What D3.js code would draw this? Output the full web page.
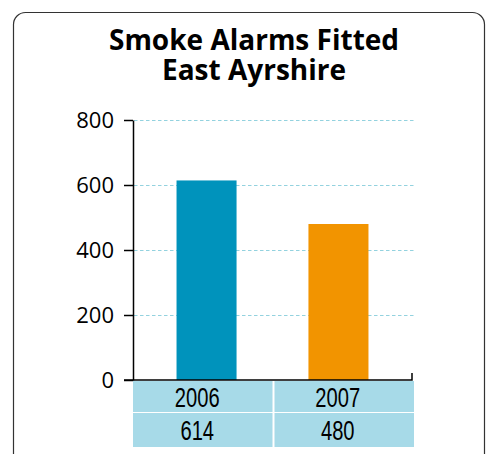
<!DOCTYPE html>
<meta charset="utf-8">
<head>
<style>
body { margin: 0; background: #fff; }
.title { font: bold 28px "Open Sans", sans-serif; fill: #000; }
.axis text { font: 22px "Open Sans", sans-serif; fill: #000; }
.axis path, .axis line { stroke: #000; stroke-width: 1.5; }
.grid line { stroke: #93d2df; stroke-dasharray: 3.5,2.5; }
.cell { fill: #a7dae8; }
.celltext { font: 27px "Liberation Sans", sans-serif; fill: #000; }
</style>
</head>
<body>
<svg width="491" height="454"></svg>
<script src="https://d3js.org/d3.v7.min.js"></script>
<script>

var years = ["2006", "2007"];
var alarms = [614, 480];
var colors = ["#0093bc", "#f29400"];
var yTicks = [0, 200, 400, 600, 800];
var titleLines = ["Smoke Alarms Fitted", "East Ayrshire"];

var svg = d3.select("svg");

svg.append("rect")
    .attr("x", 13.5).attr("y", 12.5)
    .attr("width", 471).attr("height", 470)
    .attr("rx", 12)
    .attr("fill", "#fff")
    .attr("stroke", "#333")
    .attr("stroke-width", 1.2);

// two-line title in one text element
svg.append("text").attr("class", "title")
    .attr("text-anchor", "middle")
  .selectAll("tspan")
  .data(titleLines)
  .enter().append("tspan")
    .attr("x", 254)
    .attr("y", function(d, i) { return 50 + i * 30; })
    .text(function(d) { return d; });

var y = d3.scaleLinear().domain([0, 800]).range([380, 120]);
var x = d3.scaleBand().domain(years).range([133, 412])
    .paddingInner(0.545).paddingOuter(0.33);

// gridlines
svg.append("g").attr("class", "grid")
  .selectAll("line")
  .data(yTicks.filter(function(d) { return d > 0; }))
  .enter().append("line")
    .attr("x1", 134).attr("x2", 414)
    .attr("y1", function(d) { return y(d) + 0.5; })
    .attr("y2", function(d) { return y(d) + 0.5; });

// bars
svg.selectAll(".bar")
  .data(alarms)
  .enter().append("rect")
    .attr("class", "bar")
    .attr("x", function(d, i) { return x(years[i]); })
    .attr("width", x.bandwidth())
    .attr("y", function(d) { return y(d); })
    .attr("height", function(d) { return y(0) - y(d); })
    .attr("fill", function(d, i) { return colors[i]; });

// y axis
svg.append("g").attr("class", "axis")
    .attr("transform", "translate(133,0)")
    .call(d3.axisLeft(y).tickValues(yTicks).tickSize(9).tickSizeOuter(0).tickPadding(10));

// x baseline with end tick
var xEnd = x.range()[1];
svg.append("path")
    .attr("d", "M124," + y(0) + "H" + xEnd + "V" + (y(0) - 7))
    .attr("fill", "none")
    .attr("stroke", "#000")
    .attr("stroke-width", 1.5);

// data table
var col = d3.scaleBand().domain(years).range([133, 414]);
var rows = [years, alarms];
var rowTop = [381, 413];
var rowH = [31, 34];
var rowBase = [407, 440];

rows.forEach(function(row, r) {
  var g = svg.append("g");
  g.selectAll("rect")
    .data(row)
    .enter().append("rect")
      .attr("class", "cell")
      .attr("x", function(d, i) { return col(years[i]) + (i > 0 ? 1 : 0); })
      .attr("width", function(d, i) { return col.bandwidth() - 1; })
      .attr("y", rowTop[r])
      .attr("height", rowH[r]);
  g.selectAll("text")
    .data(row)
    .enter().append("text")
      .attr("class", "celltext")
      .attr("x", function(d, i) { return col(years[i]) + col.bandwidth() / 2 - 6; })
      .attr("y", rowBase[r])
      .attr("text-anchor", "middle")
      .attr("textLength", function(d) { return String(d).length * 11.2; })
      .attr("lengthAdjust", "spacingAndGlyphs")
      .text(function(d) { return d; });
});

</script>
</body>
</html>
